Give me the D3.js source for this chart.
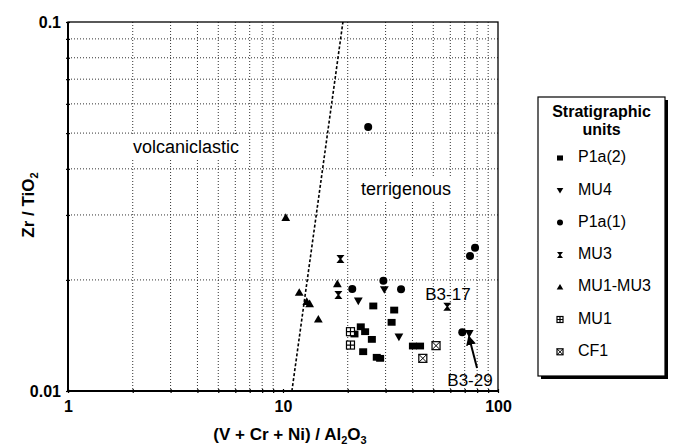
<!DOCTYPE html>
<html>
<head>
<meta charset="utf-8">
<script src="https://cdn.jsdelivr.net/npm/d3@7"></script>
<style>
  body { margin: 0; background: #fff; }
  svg { display: block; font-family: "Liberation Sans", Arial, sans-serif; }
</style>
</head>
<body>
<svg id="chart" width="677" height="446"></svg>
<script>
// values: [x = (V+Cr+Ni)/Al2O3, y = Zr/TiO2]
const p1a2 = [[26.3, 0.0170], [32.9, 0.01657], [32.0, 0.01535], [23.0, 0.01493], [24.1, 0.01448],
  [21.5, 0.01427], [25.9, 0.0138], [23.6, 0.01278], [27.3, 0.01234], [28.3, 0.01226],
  [40.2, 0.01324], [43.4, 0.01324]];
const mu4 = [[22.4, 0.01756], [29.6, 0.01886], [34.6, 0.01403], [73.5, 0.01434]];
const p1a1 = [[21.0, 0.0189], [29.3, 0.01991], [35.4, 0.01886], [74.1, 0.02322], [78.2, 0.02445],
  [68.2, 0.01443], [24.9, 0.0519]];
const mu3 = [[18.5, 0.02279], [18.1, 0.0182], [58.1, 0.01692]];
const mu1mu3 = [[10.3, 0.02949], [11.9, 0.01848], [12.9, 0.01746], [13.3, 0.01721], [14.6, 0.01564],
  [17.9, 0.0195]];
const mu1 = [[20.6, 0.01448], [20.6, 0.01332]];
const cf1 = [[51.5, 0.01327], [44.7, 0.01226]];

const seriesNames = ['P1a(2)', 'MU4', 'P1a(1)', 'MU3', 'MU1-MU3', 'MU1', 'CF1'];
const seriesData = [p1a2, mu4, p1a1, mu3, mu1mu3, mu1, cf1];

// discrimination line between the two fields
const boundary = [[11.0, 0.01], [19.0, 0.1]];
const fieldLabels = [
  { text: 'volcaniclastic', x: 3.54, y: 0.0455 },
  { text: 'terrigenous', x: 37.3, y: 0.0351 }
];
const pointLabels = [
  { text: 'B3-17', x: 58.5, y: 0.0181 },
  { text: 'B3-29', x: 74.1, y: 0.01064 }
];
const xTickLabels = [1, 10, 100];
const yTickLabels = [0.01, 0.1];

const svg = d3.select('#chart');
const mLeft = 68, mRight = 498, mTop = 22, mBottom = 391;

const x = d3.scaleLog().domain([1, 100]).range([mLeft, mRight]);
const y = d3.scaleLog().domain([0.01, 0.1]).range([mBottom, mTop]);

const minorX = [];
for (const d of [1, 10]) for (let k = 2; k <= 9; k++) minorX.push(d * k);
const minorY = [];
for (let k = 2; k <= 9; k++) minorY.push(0.01 * k);

// dotted grid
svg.append('g').selectAll('line').data(minorX).join('line')
  .attr('x1', d => x(d)).attr('x2', d => x(d))
  .attr('y1', mTop).attr('y2', mBottom)
  .attr('stroke', '#333').attr('stroke-width', 1).attr('stroke-dasharray', '1,2');
svg.append('g').selectAll('line').data(minorY).join('line')
  .attr('x1', mLeft).attr('x2', mRight)
  .attr('y1', d => y(d)).attr('y2', d => y(d))
  .attr('stroke', '#333').attr('stroke-width', 1).attr('stroke-dasharray', '1,2');

// field labels with white backing
fieldLabels.forEach(l => {
  const t = svg.append('text')
    .attr('x', x(l.x)).attr('y', y(l.y))
    .attr('text-anchor', 'middle').attr('dominant-baseline', 'middle')
    .attr('font-size', 18).text(l.text);
  const bb = t.node().getBBox();
  svg.insert('rect', () => t.node())
    .attr('x', bb.x - 3).attr('y', bb.y - 2)
    .attr('width', bb.width + 6).attr('height', bb.height + 4)
    .attr('fill', '#fff');
});

// boundary line
svg.append('path')
  .attr('d', d3.line().x(d => x(d[0])).y(d => y(d[1]))(boundary))
  .attr('fill', 'none').attr('stroke', '#000').attr('stroke-width', 1.6)
  .attr('stroke-dasharray', '3,2');

// plot frame
svg.append('rect')
  .attr('x', mLeft).attr('y', mTop).attr('width', mRight - mLeft).attr('height', mBottom - mTop)
  .attr('fill', 'none').attr('stroke', '#000').attr('stroke-width', 1.3);
svg.append('line').attr('x1', mLeft).attr('x2', mLeft).attr('y1', mTop).attr('y2', mBottom)
  .attr('stroke', '#000').attr('stroke-width', 2);
svg.append('line').attr('x1', mLeft).attr('x2', mRight).attr('y1', mBottom).attr('y2', mBottom)
  .attr('stroke', '#000').attr('stroke-width', 2);

// axes
const xAxis = d3.axisBottom(x).tickValues(xTickLabels.concat(minorX))
  .tickSize(4).tickSizeOuter(0).tickFormat(d => xTickLabels.includes(d) ? d : '');
const gx = svg.append('g').attr('transform', `translate(0,${mBottom - 2})`).call(xAxis);
gx.select('.domain').remove();
gx.selectAll('line').attr('stroke', '#000').attr('stroke-width', 1.2);
gx.selectAll('text').attr('font-size', 16).attr('font-weight', 'bold').attr('dy', '1em')
  .attr('font-family', '"Liberation Sans", Arial, sans-serif').attr('fill', '#000');

const yAxis = d3.axisLeft(y).tickValues(yTickLabels.concat(minorY))
  .tickSize(4).tickSizeOuter(0).tickFormat(d => yTickLabels.includes(d) ? d : '');
const gy = svg.append('g').attr('transform', `translate(${mLeft + 2},0)`).call(yAxis);
gy.select('.domain').remove();
gy.selectAll('line').attr('stroke', '#000').attr('stroke-width', 1.2);
gy.selectAll('text').attr('font-size', 16).attr('font-weight', 'bold').attr('x', -9)
  .attr('font-family', '"Liberation Sans", Arial, sans-serif').attr('fill', '#000');

// axis titles
const xt = svg.append('text').attr('x', 290).attr('y', 440)
  .attr('text-anchor', 'middle').attr('font-size', 17).attr('font-weight', 'bold');
xt.append('tspan').text('(V + Cr + Ni) / Al');
xt.append('tspan').attr('font-size', 11).attr('dy', 4).text('2');
xt.append('tspan').attr('dy', -4).text('O');
xt.append('tspan').attr('font-size', 11).attr('dy', 4).text('3');

const yt = svg.append('text').attr('transform', 'translate(34,205) rotate(-90)')
  .attr('text-anchor', 'middle').attr('font-size', 17).attr('font-weight', 'bold');
yt.append('tspan').text('Zr / TiO');
yt.append('tspan').attr('font-size', 11).attr('dy', 4).text('2');

// marker shapes
function drawMarker(g, i, s) {
  const h = s / 2;
  if (i === 0) {
    g.append('rect').attr('x', -h).attr('y', -h * 0.85).attr('width', s).attr('height', s * 0.85).attr('fill', '#000');
  } else if (i === 1) {
    g.append('path').attr('d', `M${-h * 1.1},${-h * 0.8}H${h * 1.1}L0,${h * 1.1}Z`).attr('fill', '#000');
  } else if (i === 2) {
    g.append('circle').attr('r', h).attr('fill', '#000');
  } else if (i === 3) {
    g.append('path').attr('d', `M${-h},${-h}H${h}L${h * 0.2},0L${h},${h}H${-h}L${-h * 0.2},0Z`).attr('fill', '#000');
  } else if (i === 4) {
    g.append('path').attr('d', `M0,${-h * 1.1}L${h * 1.1},${h * 0.8}H${-h * 1.1}Z`).attr('fill', '#000');
  } else if (i === 5) {
    g.append('rect').attr('x', -h).attr('y', -h).attr('width', s).attr('height', s)
      .attr('fill', '#fff').attr('stroke', '#000').attr('stroke-width', 1.2);
    g.append('path').attr('d', `M${-h},0H${h}M0,${-h}V${h}`).attr('stroke', '#000').attr('stroke-width', 1.2);
  } else {
    g.append('rect').attr('x', -h).attr('y', -h).attr('width', s).attr('height', s)
      .attr('fill', '#fff').attr('stroke', '#000').attr('stroke-width', 1.2);
    g.append('path').attr('d', `M${-h},${-h}L${h},${h}M${h},${-h}L${-h},${h}`).attr('stroke', '#000').attr('stroke-width', 1);
  }
}

// points
seriesData.forEach((pts, i) => {
  pts.forEach(p => {
    const g = svg.append('g').attr('transform', `translate(${x(p[0])},${y(p[1])})`);
    drawMarker(g, i, 8);
  });
});

// point labels and arrow for B3-29
pointLabels.forEach(l => {
  svg.append('text').attr('x', x(l.x)).attr('y', y(l.y))
    .attr('text-anchor', 'middle').attr('dominant-baseline', 'middle')
    .attr('font-size', 17).text(l.text);
});
const arrowFrom = [79.9, 0.01154], arrowTo = [73.3, 0.0140];
svg.append('defs').append('marker').attr('id', 'ah')
  .attr('viewBox', '0 0 10 10').attr('refX', 8).attr('refY', 5)
  .attr('markerWidth', 5).attr('markerHeight', 5).attr('orient', 'auto')
  .append('path').attr('d', 'M0,0L10,5L0,10Z').attr('fill', '#000');
svg.append('line')
  .attr('x1', x(arrowFrom[0])).attr('y1', y(arrowFrom[1]))
  .attr('x2', x(arrowTo[0])).attr('y2', y(arrowTo[1]))
  .attr('stroke', '#000').attr('stroke-width', 2).attr('marker-end', 'url(#ah)');

// legend
const lg = svg.append('g');
const lx = 538, ly = 97, lw = 127, lh = 279;
lg.append('rect').attr('x', lx + 3).attr('y', ly + 3).attr('width', lw).attr('height', lh).attr('fill', '#000');
lg.append('rect').attr('x', lx).attr('y', ly).attr('width', lw).attr('height', lh)
  .attr('fill', '#fff').attr('stroke', '#000').attr('stroke-width', 1.2);
lg.append('text').attr('x', lx + lw / 2).attr('y', ly + 20).attr('text-anchor', 'middle')
  .attr('font-size', 16).attr('font-weight', 'bold').text('Stratigraphic');
lg.append('text').attr('x', lx + lw / 2).attr('y', ly + 38).attr('text-anchor', 'middle')
  .attr('font-size', 16).attr('font-weight', 'bold').text('units');
seriesNames.forEach((name, i) => {
  const cy = 158 + i * 32.3;
  const g = lg.append('g').attr('transform', `translate(560,${cy})`);
  drawMarker(g, i, 6);
  lg.append('text').attr('x', 578).attr('y', cy).attr('dominant-baseline', 'middle')
    .attr('font-size', 16).text(name);
});
</script>
</body>
</html>
